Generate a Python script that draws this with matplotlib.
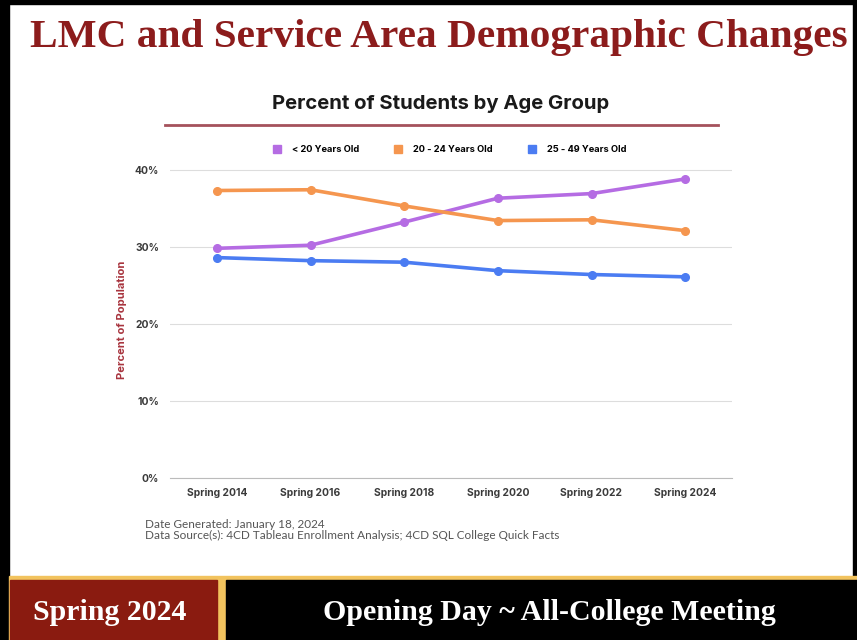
import matplotlib.pyplot as plt
from matplotlib.patches import Rectangle
from matplotlib.lines import Line2D

terms = ["Spring 2014", "Spring 2016", "Spring 2018", "Spring 2020", "Spring 2022", "Spring 2024"]
under_20 = [29.8, 30.2, 33.2, 36.3, 36.9, 38.8]
age_20_24 = [37.3, 37.4, 35.3, 33.4, 33.5, 32.1]
age_25_49 = [28.6, 28.2, 28.0, 26.9, 26.4, 26.1]
series_labels = ["< 20 Years Old", "20 - 24 Years Old", "25 - 49 Years Old"]
y_ticks = [0, 10, 20, 30, 40]

colors = ["#b56ce3", "#f5964f", "#4b7cf2"]
W, H = 857, 640

fig = plt.figure(figsize=(W / 100, H / 100), dpi=100)
fig.patch.set_facecolor("white")


def fx(px):
    return px / W


def fy(py):
    return 1 - py / H


# slide frame
fig.add_artist(Rectangle((0, 0), fx(9), 1, transform=fig.transFigure, color="black", zorder=0))
fig.add_artist(Rectangle((0, fy(4)), 1, 4 / H, transform=fig.transFigure, color="black", zorder=0))
fig.add_artist(Rectangle((fx(853), 0), fx(4), 1, transform=fig.transFigure, color="black", zorder=0))

fig.text(fx(439), fy(38), "LMC and Service Area Demographic Changes", ha="center", va="center",
         family="Liberation Serif", weight="bold", fontsize=29.7, color="#8c1c1c")

# footer banner
fig.add_artist(Rectangle((fx(9), 0), fx(848), fy(576), transform=fig.transFigure, color="#f2c35e", zorder=1))
fig.add_artist(Rectangle((fx(10), 0), fx(207), fy(580), transform=fig.transFigure, color="#8a1b10", zorder=2))
fig.add_artist(Rectangle((fx(226), 0), fx(631), fy(580), transform=fig.transFigure, color="black", zorder=2))
fig.text(fx(110), fy(612), "Spring 2024", ha="center", va="center", family="Liberation Serif",
         weight="bold", fontsize=21.5, color="white", zorder=3)
fig.text(fx(549), fy(612), "Opening Day ~ All-College Meeting", ha="center", va="center",
         family="Liberation Serif", weight="bold", fontsize=21.5, color="white", zorder=3)

# chart title
fig.text(fx(441), fy(104), "Percent of Students by Age Group", ha="center", va="center",
         family="Inter", weight="bold", fontsize=14.6, color="#1a1a1a")
fig.add_artist(Line2D([fx(165), fx(718)], [fy(125), fy(125)], transform=fig.transFigure,
                      color="#a5525c", linewidth=2))

ax = fig.add_axes([fx(170), fy(478), fx(732) - fx(170), (478 - 162) / H])
x = list(range(len(terms)))
for vals, c, lab in zip([under_20, age_20_24, age_25_49], colors, series_labels):
    ax.plot(x, vals, color=c, linewidth=2.6, marker="o", markersize=5.5, label=lab, zorder=3)

ax.set_xlim(-0.5, len(terms) - 0.5)
ax.set_ylim(0, 41.0)
ax.set_yticks(y_ticks)
ax.set_yticklabels([f"{v}%" for v in y_ticks])
ax.set_xticks(x)
ax.set_xticklabels(terms)
for lbl in ax.get_xticklabels() + ax.get_yticklabels():
    lbl.set_family("Inter")
    lbl.set_weight("bold")
    lbl.set_fontsize(7.4)
    lbl.set_color("#3a3a3a")
ax.tick_params(length=0, pad=7)
ax.tick_params(axis="y", pad=8)
ax.grid(axis="y", color="#dddddd", linewidth=0.8)
ax.set_axisbelow(True)
for s in ["top", "right", "left"]:
    ax.spines[s].set_visible(False)
ax.spines["bottom"].set_color("#bbbbbb")
ax.set_ylabel("Percent of Population", family="Inter", weight="bold", fontsize=8,
              color="#a8343e")
ax.yaxis.set_label_coords((127 - 170) / (732 - 170), 0.5)

handles = [Line2D([], [], marker="s", linestyle="none", color=c, markersize=6) for c in colors]
fig.legend(handles, series_labels, loc="center", bbox_to_anchor=(fx(447), fy(150)), ncol=3,
           frameon=False, prop={"family": "Inter", "weight": "bold", "size": 6.7}, handletextpad=0.6,
           columnspacing=3.2)

fig.text(fx(145), fy(530), "Date Generated: January 18, 2024\nData Source(s): 4CD Tableau Enrollment Analysis; 4CD SQL College Quick Facts",
         ha="left", va="center", family="Lato", fontsize=8.5, color="#555555", linespacing=1.0)

fig.savefig("out.png", dpi=100)
